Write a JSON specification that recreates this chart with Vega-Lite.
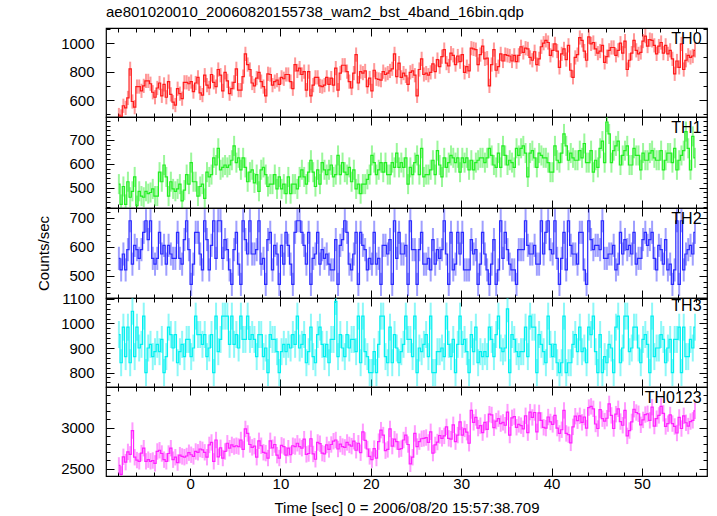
{
"$schema": "https://vega.github.io/schema/vega-lite/v6.json",
"padding": {"left": 35, "top": 4, "right": 5, "bottom": 2},
"background": "white",
"datasets": {
"errs": [{"p":"a","err":50},{"p":"b","err":42},{"p":"c","err":40},{"p":"d","err":55},{"p":"e","err":100}],
"lc": [
{"t":-7.875,"a":495,"b":515,"c":560,"d":955,"e":2540},{"t":-7.625,"a":485,"b":430,"c":520,"d":840,"e":2430},{"t":-7.375,"a":560,"b":505,"c":575,"d":985,"e":2645},{"t":-7.125,"a":545,"b":430,"c":520,"d":865,"e":2580},
{"t":-6.875,"a":615,"b":525,"c":590,"d":985,"e":2705},{"t":-6.625,"a":820,"b":460,"c":690,"d":840,"e":2675},{"t":-6.375,"a":590,"b":485,"c":540,"d":1050,"e":2965},{"t":-6.125,"a":550,"b":545,"c":605,"d":865,"e":2640},
{"t":-5.875,"a":695,"b":425,"c":590,"d":985,"e":2605},{"t":-5.625,"a":695,"b":485,"c":560,"d":900,"e":2590},{"t":-5.375,"a":665,"b":465,"c":590,"d":915,"e":2690},{"t":-5.125,"a":700,"b":460,"c":650,"d":1030,"e":2750},
{"t":-4.875,"a":735,"b":485,"c":690,"d":800,"e":2590},{"t":-4.625,"a":735,"b":475,"c":625,"d":900,"e":2610},{"t":-4.375,"a":715,"b":480,"c":690,"d":915,"e":2590},{"t":-4.125,"a":655,"b":495,"c":560,"d":865,"e":2600},
{"t":-3.875,"a":620,"b":465,"c":540,"d":885,"e":2565},{"t":-3.625,"a":685,"b":465,"c":560,"d":915,"e":2710},{"t":-3.375,"a":720,"b":565,"c":650,"d":885,"e":2725},{"t":-3.125,"a":630,"b":525,"c":575,"d":935,"e":2685},
{"t":-2.875,"a":710,"b":595,"c":605,"d":800,"e":2610},{"t":-2.625,"a":620,"b":545,"c":540,"d":865,"e":2590},{"t":-2.375,"a":730,"b":465,"c":605,"d":985,"e":2685},{"t":-2.125,"a":640,"b":525,"c":575,"d":955,"e":2750},
{"t":-1.875,"a":585,"b":495,"c":560,"d":900,"e":2610},{"t":-1.625,"a":565,"b":485,"c":560,"d":955,"e":2640},{"t":-1.375,"a":680,"b":495,"c":650,"d":840,"e":2575},{"t":-1.125,"a":645,"b":515,"c":560,"d":885,"e":2665},
{"t":-0.875,"a":610,"b":445,"c":540,"d":915,"e":2650},{"t":-0.625,"a":725,"b":490,"c":625,"d":865,"e":2640},{"t":-0.375,"a":725,"b":555,"c":690,"d":935,"e":2655},{"t":-0.125,"a":715,"b":515,"c":590,"d":935,"e":2695},
{"t":0.125,"a":730,"b":605,"c":470,"d":865,"e":2670},{"t":0.375,"a":660,"b":525,"c":540,"d":900,"e":2650},{"t":0.625,"a":720,"b":525,"c":650,"d":1030,"e":2710},{"t":0.875,"a":760,"b":465,"c":650,"d":955,"e":2700},
{"t":1.125,"a":650,"b":505,"c":575,"d":955,"e":2740},{"t":1.375,"a":635,"b":515,"c":520,"d":915,"e":2730},{"t":1.625,"a":775,"b":455,"c":690,"d":955,"e":2700},{"t":1.875,"a":705,"b":565,"c":625,"d":865,"e":2640},
{"t":2.125,"a":685,"b":545,"c":520,"d":900,"e":2790},{"t":2.375,"a":780,"b":555,"c":605,"d":955,"e":2820},{"t":2.625,"a":725,"b":625,"c":690,"d":800,"e":2590},{"t":2.875,"a":695,"b":595,"c":560,"d":1030,"e":2850},
{"t":3.125,"a":815,"b":665,"c":690,"d":885,"e":2645},{"t":3.375,"a":775,"b":575,"c":690,"d":935,"e":2755},{"t":3.625,"a":665,"b":585,"c":560,"d":1030,"e":2630},{"t":3.875,"a":795,"b":595,"c":625,"d":1030,"e":2710},
{"t":4.125,"a":735,"b":585,"c":590,"d":1030,"e":2810},{"t":4.375,"a":645,"b":595,"c":520,"d":915,"e":2750},{"t":4.625,"a":680,"b":615,"c":470,"d":1030,"e":2790},{"t":4.875,"a":725,"b":675,"c":590,"d":915,"e":2770},
{"t":5.125,"a":820,"b":605,"c":650,"d":955,"e":2780},{"t":5.375,"a":670,"b":625,"c":540,"d":900,"e":2770},{"t":5.625,"a":670,"b":575,"c":470,"d":1030,"e":2850},{"t":5.875,"a":765,"b":625,"c":690,"d":935,"e":2735},
{"t":6.125,"a":925,"b":585,"c":625,"d":935,"e":2985},{"t":6.375,"a":850,"b":525,"c":575,"d":1030,"e":2930},{"t":6.625,"a":815,"b":565,"c":690,"d":935,"e":2795},{"t":6.875,"a":720,"b":575,"c":575,"d":955,"e":2760},
{"t":7.125,"a":700,"b":520,"c":575,"d":935,"e":2775},{"t":7.375,"a":755,"b":555,"c":590,"d":865,"e":2640},{"t":7.625,"a":795,"b":485,"c":690,"d":955,"e":2840},{"t":7.875,"a":730,"b":575,"c":540,"d":955,"e":2780},
{"t":8.125,"a":695,"b":585,"c":560,"d":865,"e":2700},{"t":8.375,"a":630,"b":555,"c":470,"d":900,"e":2690},{"t":8.625,"a":785,"b":505,"c":625,"d":800,"e":2630},{"t":8.875,"a":780,"b":515,"c":650,"d":955,"e":2840},
{"t":9.125,"a":705,"b":515,"c":520,"d":935,"e":2755},{"t":9.375,"a":730,"b":555,"c":605,"d":935,"e":2795},{"t":9.625,"a":740,"b":495,"c":575,"d":885,"e":2665},{"t":9.875,"a":710,"b":545,"c":470,"d":800,"e":2630},
{"t":10.125,"a":760,"b":495,"c":605,"d":885,"e":2785},{"t":10.375,"a":750,"b":515,"c":540,"d":915,"e":2770},{"t":10.625,"a":780,"b":475,"c":650,"d":885,"e":2665},{"t":10.875,"a":780,"b":545,"c":605,"d":915,"e":2750},
{"t":11.125,"a":730,"b":475,"c":540,"d":900,"e":2670},{"t":11.375,"a":680,"b":515,"c":470,"d":955,"e":2780},{"t":11.625,"a":850,"b":515,"c":650,"d":915,"e":2770},{"t":11.875,"a":805,"b":495,"c":690,"d":1030,"e":2810},
{"t":12.125,"a":825,"b":545,"c":690,"d":900,"e":2770},{"t":12.375,"a":780,"b":575,"c":650,"d":915,"e":2750},{"t":12.625,"a":800,"b":545,"c":605,"d":955,"e":2860},{"t":12.875,"a":670,"b":515,"c":540,"d":840,"e":2675},
{"t":13.125,"a":800,"b":565,"c":650,"d":885,"e":2685},{"t":13.375,"a":630,"b":615,"c":470,"d":985,"e":2865},{"t":13.625,"a":705,"b":565,"c":560,"d":865,"e":2680},{"t":13.875,"a":760,"b":505,"c":575,"d":840,"e":2615},
{"t":14.125,"a":760,"b":575,"c":650,"d":955,"e":2820},{"t":14.375,"a":700,"b":515,"c":540,"d":985,"e":2805},{"t":14.625,"a":695,"b":605,"c":590,"d":915,"e":2690},{"t":14.875,"a":705,"b":575,"c":560,"d":865,"e":2680},
{"t":15.125,"a":760,"b":555,"c":575,"d":915,"e":2790},{"t":15.375,"a":710,"b":575,"c":540,"d":840,"e":2735},{"t":15.625,"a":755,"b":595,"c":520,"d":935,"e":2795},{"t":15.875,"a":705,"b":545,"c":520,"d":935,"e":2835},
{"t":16.125,"a":825,"b":555,"c":625,"d":1090,"e":2850},{"t":16.375,"a":670,"b":635,"c":470,"d":865,"e":2740},{"t":16.625,"a":790,"b":555,"c":605,"d":955,"e":2800},{"t":16.875,"a":845,"b":605,"c":625,"d":900,"e":2770},
{"t":17.125,"a":845,"b":565,"c":690,"d":865,"e":2760},{"t":17.375,"a":800,"b":555,"c":650,"d":955,"e":2820},{"t":17.625,"a":730,"b":585,"c":540,"d":900,"e":2790},{"t":17.875,"a":685,"b":525,"c":520,"d":935,"e":2775},
{"t":18.125,"a":790,"b":575,"c":575,"d":935,"e":2835},{"t":18.375,"a":920,"b":495,"c":650,"d":885,"e":2725},{"t":18.625,"a":720,"b":515,"c":470,"d":1030,"e":2810},{"t":18.875,"a":800,"b":475,"c":650,"d":840,"e":2695},
{"t":19.125,"a":790,"b":515,"c":605,"d":1030,"e":2950},{"t":19.375,"a":805,"b":515,"c":590,"d":885,"e":2845},{"t":19.625,"a":695,"b":535,"c":520,"d":865,"e":2740},{"t":19.875,"a":755,"b":555,"c":560,"d":800,"e":2650},
{"t":20.125,"a":665,"b":635,"c":540,"d":800,"e":2610},{"t":20.375,"a":810,"b":605,"c":650,"d":885,"e":2745},{"t":20.625,"a":750,"b":555,"c":540,"d":800,"e":2630},{"t":20.875,"a":745,"b":575,"c":560,"d":915,"e":2830},
{"t":21.125,"a":740,"b":605,"c":470,"d":1030,"e":2970},{"t":21.375,"a":800,"b":565,"c":605,"d":1030,"e":2910},{"t":21.625,"a":780,"b":605,"c":605,"d":865,"e":2720},{"t":21.875,"a":790,"b":555,"c":575,"d":840,"e":2735},
{"t":22.125,"a":805,"b":555,"c":625,"d":985,"e":2985},{"t":22.375,"a":820,"b":605,"c":470,"d":840,"e":2775},{"t":22.625,"a":925,"b":585,"c":690,"d":955,"e":2860},{"t":22.875,"a":765,"b":645,"c":560,"d":900,"e":2830},
{"t":23.125,"a":860,"b":585,"c":650,"d":840,"e":2735},{"t":23.375,"a":760,"b":605,"c":575,"d":885,"e":2745},{"t":23.625,"a":790,"b":585,"c":575,"d":915,"e":2850},{"t":23.875,"a":770,"b":625,"c":605,"d":1030,"e":2910},
{"t":24.125,"a":710,"b":515,"c":470,"d":935,"e":2795},{"t":24.375,"a":795,"b":585,"c":690,"d":935,"e":2560},{"t":24.625,"a":805,"b":555,"c":590,"d":865,"e":2640},{"t":24.875,"a":775,"b":605,"c":590,"d":1030,"e":2930},
{"t":25.125,"a":630,"b":635,"c":470,"d":800,"e":2770},{"t":25.375,"a":815,"b":555,"c":590,"d":900,"e":2830},{"t":25.625,"a":890,"b":665,"c":650,"d":885,"e":2865},{"t":25.875,"a":780,"b":545,"c":540,"d":915,"e":2870},
{"t":26.125,"a":790,"b":555,"c":540,"d":955,"e":2880},{"t":26.375,"a":775,"b":555,"c":560,"d":865,"e":2820},{"t":26.625,"a":795,"b":575,"c":520,"d":1030,"e":2950},{"t":26.875,"a":855,"b":615,"c":625,"d":800,"e":2690},
{"t":27.125,"a":800,"b":555,"c":540,"d":800,"e":2790},{"t":27.375,"a":885,"b":655,"c":590,"d":885,"e":2825},{"t":27.625,"a":835,"b":595,"c":560,"d":885,"e":2905},{"t":27.875,"a":905,"b":545,"c":590,"d":900,"e":2870},
{"t":28.125,"a":955,"b":625,"c":690,"d":865,"e":2900},{"t":28.375,"a":860,"b":585,"c":575,"d":1030,"e":3010},{"t":28.625,"a":840,"b":605,"c":470,"d":915,"e":2870},{"t":28.875,"a":930,"b":635,"c":650,"d":865,"e":2860},
{"t":29.125,"a":915,"b":625,"c":520,"d":935,"e":3035},{"t":29.375,"a":850,"b":605,"c":540,"d":800,"e":2830},{"t":29.625,"a":910,"b":625,"c":650,"d":915,"e":2910},{"t":29.875,"a":870,"b":565,"c":575,"d":1030,"e":3070},
{"t":30.125,"a":920,"b":625,"c":650,"d":915,"e":2910},{"t":30.375,"a":795,"b":605,"c":520,"d":935,"e":2985},{"t":30.625,"a":835,"b":625,"c":520,"d":885,"e":2945},{"t":30.875,"a":805,"b":575,"c":520,"d":800,"e":2810},
{"t":31.125,"a":965,"b":615,"c":625,"d":955,"e":3210},{"t":31.375,"a":960,"b":575,"c":575,"d":885,"e":3065},{"t":31.625,"a":955,"b":605,"c":590,"d":985,"e":3125},{"t":31.875,"a":850,"b":615,"c":470,"d":840,"e":2995},
{"t":32.125,"a":920,"b":625,"c":540,"d":885,"e":3025},{"t":32.375,"a":980,"b":625,"c":650,"d":865,"e":2940},{"t":32.625,"a":890,"b":605,"c":575,"d":885,"e":3065},{"t":32.875,"a":895,"b":625,"c":520,"d":865,"e":2980},
{"t":33.125,"a":700,"b":665,"c":470,"d":985,"e":3165},{"t":33.375,"a":850,"b":635,"c":540,"d":935,"e":3155},{"t":33.625,"a":955,"b":595,"c":625,"d":865,"e":3000},{"t":33.875,"a":810,"b":585,"c":470,"d":955,"e":3080},
{"t":34.125,"a":835,"b":645,"c":520,"d":1030,"e":3110},{"t":34.375,"a":925,"b":585,"c":690,"d":900,"e":3050},{"t":34.625,"a":875,"b":675,"c":560,"d":885,"e":3065},{"t":34.875,"a":920,"b":635,"c":650,"d":900,"e":3030},
{"t":35.125,"a":915,"b":595,"c":590,"d":1060,"e":3190},{"t":35.375,"a":910,"b":615,"c":540,"d":800,"e":2910},{"t":35.625,"a":875,"b":605,"c":520,"d":955,"e":3120},{"t":35.875,"a":915,"b":585,"c":520,"d":935,"e":3135},
{"t":36.125,"a":870,"b":665,"c":470,"d":885,"e":3005},{"t":36.375,"a":915,"b":635,"c":590,"d":865,"e":3040},{"t":36.625,"a":975,"b":665,"c":590,"d":885,"e":3025},{"t":36.875,"a":935,"b":675,"c":590,"d":885,"e":2985},
{"t":37.125,"a":965,"b":645,"c":690,"d":985,"e":3145},{"t":37.375,"a":960,"b":545,"c":605,"d":865,"e":2940},{"t":37.625,"a":900,"b":645,"c":575,"d":1030,"e":3190},{"t":37.875,"a":880,"b":655,"c":575,"d":985,"e":3125},
{"t":38.125,"a":940,"b":625,"c":605,"d":985,"e":3185},{"t":38.375,"a":850,"b":585,"c":540,"d":800,"e":2950},{"t":38.625,"a":890,"b":645,"c":540,"d":955,"e":3180},{"t":38.875,"a":975,"b":635,"c":690,"d":915,"e":3090},
{"t":39.125,"a":1000,"b":625,"c":575,"d":885,"e":3005},{"t":39.375,"a":1020,"b":625,"c":650,"d":840,"e":2995},{"t":39.625,"a":1005,"b":605,"c":690,"d":1030,"e":3130},{"t":39.875,"a":915,"b":565,"c":590,"d":915,"e":3070},
{"t":40.125,"a":950,"b":565,"c":575,"d":865,"e":3040},{"t":40.375,"a":995,"b":675,"c":690,"d":915,"e":3150},{"t":40.625,"a":945,"b":615,"c":560,"d":840,"e":2995},{"t":40.875,"a":830,"b":605,"c":470,"d":800,"e":2930},
{"t":41.125,"a":925,"b":645,"c":560,"d":840,"e":2975},{"t":41.375,"a":960,"b":725,"c":650,"d":1030,"e":3210},{"t":41.625,"a":885,"b":675,"c":520,"d":800,"e":2930},{"t":41.875,"a":985,"b":615,"c":690,"d":840,"e":2915},
{"t":42.125,"a":810,"b":645,"c":605,"d":840,"e":2815},{"t":42.375,"a":760,"b":625,"c":575,"d":915,"e":3010},{"t":42.625,"a":900,"b":615,"c":575,"d":955,"e":3140},{"t":42.875,"a":920,"b":615,"c":540,"d":885,"e":3085},
{"t":43.125,"a":1040,"b":655,"c":650,"d":985,"e":3145},{"t":43.375,"a":1020,"b":625,"c":650,"d":885,"e":3065},{"t":43.625,"a":945,"b":685,"c":520,"d":900,"e":3130},{"t":43.875,"a":880,"b":605,"c":470,"d":840,"e":2995},
{"t":44.125,"a":1045,"b":605,"c":690,"d":985,"e":3245},{"t":44.375,"a":995,"b":655,"c":625,"d":955,"e":3260},{"t":44.625,"a":1005,"b":565,"c":590,"d":1030,"e":3230},{"t":44.875,"a":960,"b":615,"c":605,"d":885,"e":3045},
{"t":45.125,"a":930,"b":585,"c":605,"d":800,"e":2990},{"t":45.375,"a":945,"b":665,"c":590,"d":955,"e":3220},{"t":45.625,"a":985,"b":695,"c":690,"d":800,"e":3110},{"t":45.875,"a":865,"b":605,"c":560,"d":865,"e":3080},
{"t":46.125,"a":905,"b":775,"c":560,"d":840,"e":3115},{"t":46.375,"a":950,"b":725,"c":575,"d":915,"e":3290},{"t":46.625,"a":970,"b":605,"c":575,"d":900,"e":3150},{"t":46.875,"a":970,"b":655,"c":605,"d":800,"e":2990},
{"t":47.125,"a":915,"b":675,"c":520,"d":985,"e":3165},{"t":47.375,"a":950,"b":695,"c":540,"d":1030,"e":3230},{"t":47.625,"a":1000,"b":595,"c":650,"d":840,"e":3075},{"t":47.875,"a":930,"b":635,"c":575,"d":900,"e":3030},
{"t":48.125,"a":1015,"b":655,"c":625,"d":1030,"e":3210},{"t":48.375,"a":815,"b":675,"c":590,"d":1030,"e":2900},{"t":48.625,"a":880,"b":595,"c":605,"d":885,"e":2965},{"t":48.875,"a":930,"b":595,"c":575,"d":900,"e":3070},
{"t":49.125,"a":1020,"b":665,"c":650,"d":985,"e":3225},{"t":49.375,"a":950,"b":635,"c":540,"d":985,"e":3185},{"t":49.625,"a":925,"b":635,"c":560,"d":900,"e":3170},{"t":49.875,"a":935,"b":575,"c":560,"d":840,"e":3035},
{"t":50.125,"a":1015,"b":645,"c":625,"d":935,"e":3095},{"t":50.375,"a":1050,"b":615,"c":650,"d":955,"e":3160},{"t":50.625,"a":980,"b":615,"c":605,"d":915,"e":3170},{"t":50.875,"a":1025,"b":645,"c":625,"d":800,"e":3090},
{"t":51.125,"a":1020,"b":655,"c":650,"d":1030,"e":3250},{"t":51.375,"a":985,"b":625,"c":560,"d":865,"e":3020},{"t":51.625,"a":925,"b":615,"c":520,"d":900,"e":3110},{"t":51.875,"a":980,"b":615,"c":605,"d":900,"e":3150},
{"t":52.125,"a":1005,"b":655,"c":590,"d":955,"e":3260},{"t":52.375,"a":930,"b":575,"c":540,"d":935,"e":3175},{"t":52.625,"a":985,"b":615,"c":625,"d":840,"e":3015},{"t":52.875,"a":925,"b":645,"c":520,"d":900,"e":3050},
{"t":53.125,"a":950,"b":645,"c":540,"d":935,"e":3155},{"t":53.375,"a":890,"b":605,"c":470,"d":800,"e":3050},{"t":53.625,"a":785,"b":665,"c":520,"d":935,"e":3015},{"t":53.875,"a":875,"b":575,"c":690,"d":935,"e":2935},
{"t":54.125,"a":830,"b":615,"c":470,"d":985,"e":3125},{"t":54.375,"a":995,"b":635,"c":690,"d":800,"e":2990},{"t":54.625,"a":815,"b":655,"c":520,"d":985,"e":3145},{"t":54.875,"a":880,"b":735,"c":575,"d":865,"e":3060},
{"t":55.125,"a":915,"b":665,"c":590,"d":865,"e":3020},{"t":55.375,"a":900,"b":575,"c":605,"d":935,"e":3075},{"t":55.625,"a":910,"b":715,"c":575,"d":900,"e":3090},{"t":55.875,"a":950,"b":625,"c":650,"d":985,"e":3205}
]
},
"data": {"name": "lc"},
"transform": [
{"fold": ["a","b","c","d","e"], "as": ["p","v"]},
{"lookup": "p", "from": {"data": {"name": "errs"}, "key": "p", "fields": ["err"]}}
],
"spacing": 0,
"bounds": "flush",
"vconcat": [
{
"width": 601, "height": 89,
"title": {"text": "ae801020010_20060820155738_wam2_bst_4band_16bin.qdp", "anchor": "start", "frame": "group", "fontSize": 15, "font": "Liberation Sans", "fontWeight": "normal", "color": "black", "offset": 2},
"resolve": {"axis": {"x": "independent", "y": "independent"}},
"layer": [
{"transform": [{"filter": "datum.p === 'a'"}],
 "mark": {"type": "errorbar", "color": "#ff1a1a", "clip": true, "rule": {"strokeWidth": 2, "opacity": 0.45}},
 "encoding": {
  "x": {"field": "t", "type": "quantitative", "scale": {"domain": [-9.3, 57.2], "nice": false, "zero": false},
        "axis": {"orient": "bottom", "values": [-8,-6,-4,-2,0,2,4,6,8,10,12,14,16,18,20,22,24,26,28,30,32,34,36,38,40,42,44,46,48,50,52,54,56], "tickSize": {"condition": {"test": "datum.value % 10 === 0", "value": -8}, "value": -4}, "labels": false, "title": null}},
  "y": {"field": "v", "type": "quantitative", "scale": {"domain": [481, 1107], "nice": false, "zero": false},
        "axis": {"orient": "left", "values": [500,600,700,800,900,1000,1100], "tickSize": {"condition": {"test": "datum.value % 200 === 0", "value": -8}, "value": -4}, "format": "d", "labelExpr": "datum.value % 200 === 0 ? datum.label : ''", "labelPadding": 20, "title": null}},
  "yError": {"field": "err"}}},
{"transform": [{"filter": "datum.p === 'a'"}],
 "mark": {"type": "line", "interpolate": "step", "color": "#ff1a1a", "strokeWidth": 1.2, "clip": true},
 "encoding": {
  "x": {"field": "t", "type": "quantitative", "axis": {"orient": "top", "values": [-8,-6,-4,-2,0,2,4,6,8,10,12,14,16,18,20,22,24,26,28,30,32,34,36,38,40,42,44,46,48,50,52,54,56], "tickSize": {"condition": {"test": "datum.value % 10 === 0", "value": -8}, "value": -4}, "labels": false, "title": null}},
  "y": {"field": "v", "type": "quantitative", "axis": {"orient": "right", "values": [500,600,700,800,900,1000,1100], "tickSize": {"condition": {"test": "datum.value % 200 === 0", "value": -8}, "value": -4}, "labels": false, "title": null}}}},
{"data": {"values": [{"lab": "TH0"}]},
 "mark": {"type": "text", "align": "right", "baseline": "middle", "fontSize": 16, "font": "Liberation Sans", "color": "black"},
 "encoding": {"x": {"datum": 56.6, "type": "quantitative", "axis": null}, "y": {"datum": 1031, "type": "quantitative", "axis": null}, "text": {"field": "lab"}}}
]
},
{
"width": 601, "height": 91,
"resolve": {"axis": {"x": "independent", "y": "independent"}},
"layer": [
{"transform": [{"filter": "datum.p === 'b'"}],
 "mark": {"type": "errorbar", "color": "#22ee22", "clip": true, "rule": {"strokeWidth": 2, "opacity": 0.45}},
 "encoding": {
  "x": {"field": "t", "type": "quantitative", "scale": {"domain": [-9.3, 57.2], "nice": false, "zero": false},
        "axis": {"orient": "bottom", "values": [-8,-6,-4,-2,0,2,4,6,8,10,12,14,16,18,20,22,24,26,28,30,32,34,36,38,40,42,44,46,48,50,52,54,56], "tickSize": {"condition": {"test": "datum.value % 10 === 0", "value": -8}, "value": -4}, "labels": false, "title": null}},
  "y": {"field": "v", "type": "quantitative", "scale": {"domain": [415, 796], "nice": false, "zero": false},
        "axis": {"orient": "left", "values": [420,440,460,480,500,520,540,560,580,600,620,640,660,680,700,720,740,760,780], "tickSize": {"condition": {"test": "datum.value % 100 === 0", "value": -8}, "value": -4}, "format": "d", "labelExpr": "datum.value % 100 === 0 ? datum.label : ''", "labelPadding": 20, "title": null}},
  "yError": {"field": "err"}}},
{"transform": [{"filter": "datum.p === 'b'"}],
 "mark": {"type": "line", "interpolate": "step", "color": "#22ee22", "strokeWidth": 1.2, "clip": true},
 "encoding": {
  "x": {"field": "t", "type": "quantitative", "axis": {"orient": "top", "values": [-8,-6,-4,-2,0,2,4,6,8,10,12,14,16,18,20,22,24,26,28,30,32,34,36,38,40,42,44,46,48,50,52,54,56], "tickSize": {"condition": {"test": "datum.value % 10 === 0", "value": -8}, "value": -4}, "labels": false, "title": null}},
  "y": {"field": "v", "type": "quantitative", "axis": {"orient": "right", "values": [420,440,460,480,500,520,540,560,580,600,620,640,660,680,700,720,740,760,780], "tickSize": {"condition": {"test": "datum.value % 100 === 0", "value": -8}, "value": -4}, "labels": false, "title": null}}}},
{"data": {"values": [{"lab": "TH1"}]},
 "mark": {"type": "text", "align": "right", "baseline": "middle", "fontSize": 16, "font": "Liberation Sans", "color": "black"},
 "encoding": {"x": {"datum": 56.6, "type": "quantitative", "axis": null}, "y": {"datum": 748, "type": "quantitative", "axis": null}, "text": {"field": "lab"}}}
]
},
{
"width": 601, "height": 90,
"resolve": {"axis": {"x": "independent", "y": "independent"}},
"layer": [
{"transform": [{"filter": "datum.p === 'c'"}],
 "mark": {"type": "errorbar", "color": "#2a2aff", "clip": true, "rule": {"strokeWidth": 2, "opacity": 0.45}},
 "encoding": {
  "x": {"field": "t", "type": "quantitative", "scale": {"domain": [-9.3, 57.2], "nice": false, "zero": false},
        "axis": {"orient": "bottom", "values": [-8,-6,-4,-2,0,2,4,6,8,10,12,14,16,18,20,22,24,26,28,30,32,34,36,38,40,42,44,46,48,50,52,54,56], "tickSize": {"condition": {"test": "datum.value % 10 === 0", "value": -8}, "value": -4}, "labels": false, "title": null}},
  "y": {"field": "v", "type": "quantitative", "scale": {"domain": [423, 734], "nice": false, "zero": false},
        "axis": {"orient": "left", "values": [440,460,480,500,520,540,560,580,600,620,640,660,680,700,720], "tickSize": {"condition": {"test": "datum.value % 100 === 0", "value": -8}, "value": -4}, "format": "d", "labelExpr": "datum.value % 100 === 0 ? datum.label : ''", "labelPadding": 20, "title": "Counts/sec", "titleX": -55, "titleFont": "Liberation Sans", "titleFontSize": 15, "titleFontWeight": "normal"}},
  "yError": {"field": "err"}}},
{"transform": [{"filter": "datum.p === 'c'"}],
 "mark": {"type": "line", "interpolate": "step", "color": "#2a2aff", "strokeWidth": 1.2, "clip": true},
 "encoding": {
  "x": {"field": "t", "type": "quantitative", "axis": {"orient": "top", "values": [-8,-6,-4,-2,0,2,4,6,8,10,12,14,16,18,20,22,24,26,28,30,32,34,36,38,40,42,44,46,48,50,52,54,56], "tickSize": {"condition": {"test": "datum.value % 10 === 0", "value": -8}, "value": -4}, "labels": false, "title": null}},
  "y": {"field": "v", "type": "quantitative", "axis": {"orient": "right", "values": [440,460,480,500,520,540,560,580,600,620,640,660,680,700,720], "tickSize": {"condition": {"test": "datum.value % 100 === 0", "value": -8}, "value": -4}, "labels": false, "title": null}}}},
{"data": {"values": [{"lab": "TH2"}]},
 "mark": {"type": "text", "align": "right", "baseline": "middle", "fontSize": 16, "font": "Liberation Sans", "color": "black"},
 "encoding": {"x": {"datum": 56.6, "type": "quantitative", "axis": null}, "y": {"datum": 695, "type": "quantitative", "axis": null}, "text": {"field": "lab"}}}
]
},
{
"width": 601, "height": 89,
"resolve": {"axis": {"x": "independent", "y": "independent"}},
"layer": [
{"transform": [{"filter": "datum.p === 'd'"}],
 "mark": {"type": "errorbar", "color": "#00f0f0", "clip": true, "rule": {"strokeWidth": 2, "opacity": 0.45}},
 "encoding": {
  "x": {"field": "t", "type": "quantitative", "scale": {"domain": [-9.3, 57.2], "nice": false, "zero": false},
        "axis": {"orient": "bottom", "values": [-8,-6,-4,-2,0,2,4,6,8,10,12,14,16,18,20,22,24,26,28,30,32,34,36,38,40,42,44,46,48,50,52,54,56], "tickSize": {"condition": {"test": "datum.value % 10 === 0", "value": -8}, "value": -4}, "labels": false, "title": null}},
  "y": {"field": "v", "type": "quantitative", "scale": {"domain": [741, 1104], "nice": false, "zero": false},
        "axis": {"orient": "left", "values": [760,780,800,820,840,860,880,900,920,940,960,980,1000,1020,1040,1060,1080,1100], "tickSize": {"condition": {"test": "datum.value % 100 === 0", "value": -8}, "value": -4}, "format": "d", "labelExpr": "datum.value % 100 === 0 ? datum.label : ''", "labelPadding": 20, "title": null}},
  "yError": {"field": "err"}}},
{"transform": [{"filter": "datum.p === 'd'"}],
 "mark": {"type": "line", "interpolate": "step", "color": "#00f0f0", "strokeWidth": 1.2, "clip": true},
 "encoding": {
  "x": {"field": "t", "type": "quantitative", "axis": {"orient": "top", "values": [-8,-6,-4,-2,0,2,4,6,8,10,12,14,16,18,20,22,24,26,28,30,32,34,36,38,40,42,44,46,48,50,52,54,56], "tickSize": {"condition": {"test": "datum.value % 10 === 0", "value": -8}, "value": -4}, "labels": false, "title": null}},
  "y": {"field": "v", "type": "quantitative", "axis": {"orient": "right", "values": [760,780,800,820,840,860,880,900,920,940,960,980,1000,1020,1040,1060,1080,1100], "tickSize": {"condition": {"test": "datum.value % 100 === 0", "value": -8}, "value": -4}, "labels": false, "title": null}}}},
{"data": {"values": [{"lab": "TH3"}]},
 "mark": {"type": "text", "align": "right", "baseline": "middle", "fontSize": 16, "font": "Liberation Sans", "color": "black"},
 "encoding": {"x": {"datum": 56.6, "type": "quantitative", "axis": null}, "y": {"datum": 1070, "type": "quantitative", "axis": null}, "text": {"field": "lab"}}}
]
},
{
"width": 601, "height": 89,
"resolve": {"axis": {"x": "independent", "y": "independent"}},
"layer": [
{"transform": [{"filter": "datum.p === 'e'"}],
 "mark": {"type": "errorbar", "color": "#ff22ff", "clip": true, "rule": {"strokeWidth": 2, "opacity": 0.45}},
 "encoding": {
  "x": {"field": "t", "type": "quantitative", "scale": {"domain": [-9.3, 57.2], "nice": false, "zero": false},
        "axis": {"orient": "bottom", "values": [-8,-6,-4,-2,0,2,4,6,8,10,12,14,16,18,20,22,24,26,28,30,32,34,36,38,40,42,44,46,48,50,52,54,56], "tickSize": {"condition": {"test": "datum.value % 10 === 0", "value": -8}, "value": -4}, "labels": true, "labelExpr": "datum.value % 10 === 0 ? datum.label : ''", "labelPadding": 8, "title": "Time [sec] 0 = 2006/08/20 15:57:38.709", "titleFont": "Liberation Sans", "titleFontSize": 15, "titleFontWeight": "normal", "titlePadding": 5}},
  "y": {"field": "v", "type": "quantitative", "scale": {"domain": [2411, 3496], "nice": false, "zero": false},
        "axis": {"orient": "left", "values": [2500,2600,2700,2800,2900,3000,3100,3200,3300,3400], "tickSize": {"condition": {"test": "datum.value % 500 === 0", "value": -8}, "value": -4}, "format": "d", "labelExpr": "datum.value % 500 === 0 ? datum.label : ''", "labelPadding": 20, "title": null}},
  "yError": {"field": "err"}}},
{"transform": [{"filter": "datum.p === 'e'"}],
 "mark": {"type": "line", "interpolate": "step", "color": "#ff22ff", "strokeWidth": 1.2, "clip": true},
 "encoding": {
  "x": {"field": "t", "type": "quantitative", "axis": {"orient": "top", "values": [-8,-6,-4,-2,0,2,4,6,8,10,12,14,16,18,20,22,24,26,28,30,32,34,36,38,40,42,44,46,48,50,52,54,56], "tickSize": {"condition": {"test": "datum.value % 10 === 0", "value": -8}, "value": -4}, "labels": false, "title": null}},
  "y": {"field": "v", "type": "quantitative", "axis": {"orient": "right", "values": [2500,2600,2700,2800,2900,3000,3100,3200,3300,3400], "tickSize": {"condition": {"test": "datum.value % 500 === 0", "value": -8}, "value": -4}, "labels": false, "title": null}}}},
{"data": {"values": [{"lab": "TH0123"}]},
 "mark": {"type": "text", "align": "right", "baseline": "middle", "fontSize": 16, "font": "Liberation Sans", "color": "black"},
 "encoding": {"x": {"datum": 56.6, "type": "quantitative", "axis": null}, "y": {"datum": 3362, "type": "quantitative", "axis": null}, "text": {"field": "lab"}}}
]
}
],
"config": {
"view": {"stroke": "black", "strokeWidth": 1.2},
"axis": {"domain": false, "grid": false, "tickColor": "black", "tickWidth": 1, "labelColor": "black", "labelFont": "Liberation Sans", "labelFontSize": 15, "labelFlush": false, "labelOverlap": false, "labelBound": false, "titleColor": "black", "titleFont": "Liberation Sans", "titleFontSize": 15, "titleFontWeight": "normal"}
}
}
